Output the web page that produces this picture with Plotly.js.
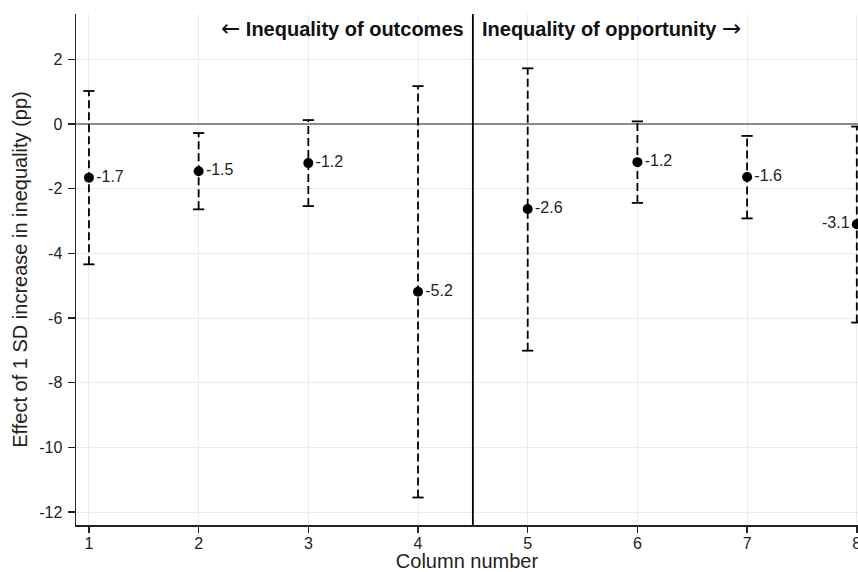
<!DOCTYPE html>
<html>
<head>
<meta charset="utf-8">
<script src="https://cdn.plot.ly/plotly-3.0.1.min.js"></script>
<style>body{margin:0;padding:0;background:#fff}#chart{width:858px;height:572px}</style>
</head>
<body>
<div id="chart"></div>
<script>
const columns = [1, 2, 3, 4, 5, 6, 7, 8];
const estimates = [-1.66, -1.46, -1.21, -5.19, -2.63, -1.18, -1.64, -3.10];
const upperCI = [1.02, -0.28, 0.12, 1.17, 1.72, 0.08, -0.37, -0.08];
const lowerCI = [-4.34, -2.64, -2.54, -11.55, -7.01, -2.44, -2.92, -6.14];
const pointLabels = ["-1.7", "-1.5", "-1.2", "-5.2", "-2.6", "-1.2", "-1.6", "-3.1"];
const labelSides = ["right", "right", "right", "right", "right", "right", "right", "left"];
const sectionLabels = ["Inequality of outcomes", "Inequality of opportunity"];
const dividerX = 4.5;
const yTicks = [2, 0, -2, -4, -6, -8, -10, -12];

const FONT = "Liberation Sans, Arial, sans-serif";
const ARROW = '<span style="font-family:DejaVu Sans;font-weight:normal;font-size:23px">';
const traces = [];

// dashed CI lines
columns.forEach((c, i) => {
  traces.push({
    x: [c, c], y: [lowerCI[i], upperCI[i]],
    mode: 'lines', type: 'scatter',
    line: {color: '#000', width: 1.8, dash: '8px,4px'},
    hoverinfo: 'skip', showlegend: false, cliponaxis: false
  });
});
// caps
traces.push({
  x: columns.concat(columns), y: upperCI.concat(lowerCI),
  mode: 'markers', type: 'scatter',
  marker: {symbol: 'line-ew', size: 8, color: '#000', line: {color: '#000', width: 1.8}},
  showlegend: false, hoverinfo: 'skip', cliponaxis: false
});
const rIdx = columns.map((c, i) => i).filter(i => labelSides[i] === 'right');
const lIdx = columns.map((c, i) => i).filter(i => labelSides[i] === 'left');
[[rIdx, 'middle right'], [lIdx, 'middle left']].forEach(([idx, pos]) => {
  traces.push({
    x: idx.map(i => columns[i]), y: idx.map(i => estimates[i]),
    text: idx.map(i => pointLabels[i]),
    mode: 'markers+text', type: 'scatter', textposition: pos,
    textfont: {family: FONT, size: 16, color: '#222'},
    marker: {size: 10, color: '#000'},
    showlegend: false, cliponaxis: false
  });
});

const plotTop = 14, plotBottom = 525, H = 572;
const plotH = plotBottom - plotTop;
const pxToPaper = py => 1 - (py - plotTop) / plotH;

const layout = {
  width: 858, height: H,
  margin: {l: 76, r: 0, t: plotTop, b: H - plotBottom},
  paper_bgcolor: '#fff', plot_bgcolor: '#fff',
  font: {family: FONT, color: '#222'},
  xaxis: {
    range: [0.882, 8.011], tickvals: columns, ticktext: columns.map(String),
    showgrid: true, gridcolor: '#ebebeb', gridwidth: 1,
    showline: true, linecolor: '#222', linewidth: 1.5,
    ticks: 'outside', ticklen: 6, tickcolor: '#222', tickwidth: 1.5,
    tickfont: {size: 16, family: FONT, color: '#222'},
    ticklabeloverflow: 'allow',
    ticklabelstandoff: -3,
    zeroline: false,
    title: {text: 'Column number', font: {size: 20, family: FONT, color: '#222'}, standoff: 0}
  },
  yaxis: {
    range: [-12.4, 3.4], tickvals: yTicks, ticktext: yTicks.map(String),
    showgrid: true, gridcolor: '#ebebeb', gridwidth: 1,
    showline: true, linecolor: '#222', linewidth: 1.5,
    ticks: 'outside', ticklen: 7, tickcolor: '#222', tickwidth: 1.5,
    tickfont: {size: 16, family: FONT, color: '#222'},
    ticklabelstandoff: 2,
    zeroline: true, zerolinecolor: '#8c8c8c', zerolinewidth: 2,
    title: {text: 'Effect of 1 SD increase in inequality (pp)', font: {size: 20, family: FONT, color: '#222'}, standoff: 6}
  },
  shapes: [{
    type: 'line', xref: 'x', yref: 'paper', x0: dividerX, x1: dividerX, y0: 0, y1: 1,
    line: {color: '#000', width: 1.8}
  }],
  annotations: [
    {x: dividerX, xref: 'x', y: pxToPaper(28), yref: 'paper', xanchor: 'right', yanchor: 'middle',
     text: ARROW + '\u2190</span> <b>' + sectionLabels[0] + '</b>', showarrow: false, xshift: -7,
     font: {size: 20, family: FONT, color: '#111'}},
    {x: dividerX, xref: 'x', y: pxToPaper(28), yref: 'paper', xanchor: 'left', yanchor: 'middle',
     text: '<b>' + sectionLabels[1] + '</b> ' + ARROW + '\u2192</span>', showarrow: false, xshift: 7,
     font: {size: 20, family: FONT, color: '#111'}}
  ]
};

Plotly.newPlot('chart', traces, layout, {staticPlot: true});
</script>
</body>
</html>
